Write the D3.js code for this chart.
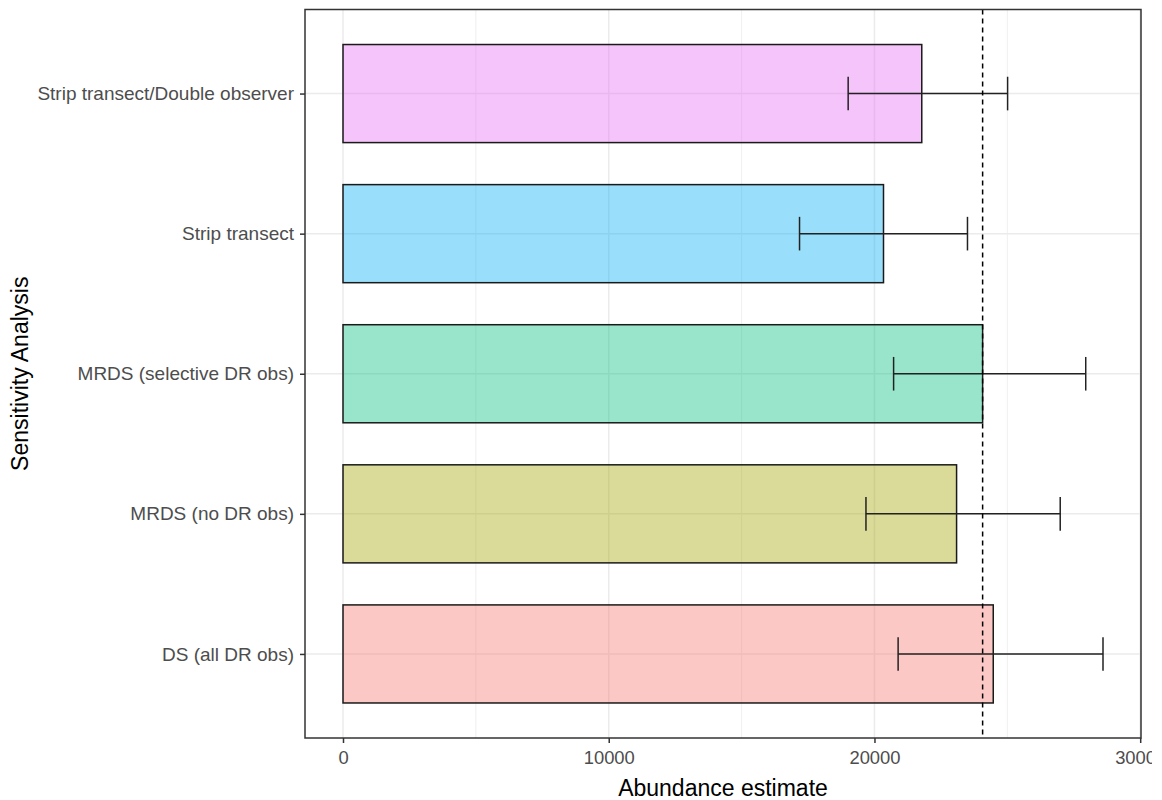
<!DOCTYPE html>
<html>
<head>
<meta charset="utf-8">
<script src="https://cdn.jsdelivr.net/npm/d3@7"></script>
<style>
  html, body { margin: 0; padding: 0; background: #fff; }
  svg { display: block; }
</style>
</head>
<body>
<svg id="chart" width="1152" height="800"></svg>
<script>
// Data (bottom to top as shown)
const categories = ["DS (all DR obs)", "MRDS (no DR obs)", "MRDS (selective DR obs)", "Strip transect", "Strip transect/Double observer"];
const estimates = [24470, 23090, 24070, 20340, 21780];
const lowerCI = [20890, 19680, 20720, 17180, 19010];
const upperCI = [28600, 26990, 27950, 23500, 25010];
const fillColors = ["#F8766D", "#A3A500", "#00BF7D", "#00B0F6", "#E76BF3"];
const referenceLine = 24070;
const xTicks = [0, 10000, 20000, 30000];
const xMinorTicks = [5000, 15000, 25000];

const svg = d3.select("#chart");
const panel = { left: 305, right: 1141, top: 9.5, bottom: 738 };

const dataMax = d3.max(upperCI);
const pad = dataMax * 0.05;
const x = d3.scaleLinear().domain([0 - pad, dataMax + pad]).range([panel.left, panel.right]);

// discrete y: 5 categories, expansion 0.6 units
const y = d3.scalePoint().domain(categories.slice().reverse())
  .range([panel.top, panel.bottom]).padding(0.6);
const step = y.step();
const barH = step * 0.7;
const capH = step * 0.24;

const data = categories.map((c, i) => ({ cat: c, est: estimates[i], lo: lowerCI[i], hi: upperCI[i], col: fillColors[i] }));

// panel background
svg.append("rect").attr("x", panel.left).attr("y", panel.top)
  .attr("width", panel.right - panel.left).attr("height", panel.bottom - panel.top)
  .attr("fill", "#fff");

// grid
const g = svg.append("g");
g.selectAll(".minor").data(xMinorTicks).join("line")
  .attr("x1", d => x(d)).attr("x2", d => x(d))
  .attr("y1", panel.top).attr("y2", panel.bottom)
  .attr("stroke", "#ebebeb").attr("stroke-width", 0.8);
g.selectAll(".majorx").data(xTicks).join("line")
  .attr("x1", d => x(d)).attr("x2", d => x(d))
  .attr("y1", panel.top).attr("y2", panel.bottom)
  .attr("stroke", "#ebebeb").attr("stroke-width", 1.5);
g.selectAll(".majory").data(categories).join("line")
  .attr("x1", panel.left).attr("x2", panel.right)
  .attr("y1", d => y(d)).attr("y2", d => y(d))
  .attr("stroke", "#ebebeb").attr("stroke-width", 1.5);

// bars
svg.append("g").selectAll("rect").data(data).join("rect")
  .attr("x", x(0)).attr("width", d => x(d.est) - x(0))
  .attr("y", d => y(d.cat) - barH / 2).attr("height", barH)
  .attr("fill", d => d.col).attr("fill-opacity", 0.4)
  .attr("stroke", "#1a1a1a").attr("stroke-width", 1.5);

// error bars
const eb = svg.append("g").attr("stroke", "#222").attr("stroke-width", 1.5);
eb.selectAll(".h").data(data).join("line")
  .attr("x1", d => x(d.lo)).attr("x2", d => x(d.hi))
  .attr("y1", d => y(d.cat)).attr("y2", d => y(d.cat));
eb.selectAll(".l").data(data).join("line")
  .attr("x1", d => x(d.lo)).attr("x2", d => x(d.lo))
  .attr("y1", d => y(d.cat) - capH / 2).attr("y2", d => y(d.cat) + capH / 2);
eb.selectAll(".r").data(data).join("line")
  .attr("x1", d => x(d.hi)).attr("x2", d => x(d.hi))
  .attr("y1", d => y(d.cat) - capH / 2).attr("y2", d => y(d.cat) + capH / 2);

// reference line
svg.append("line")
  .attr("x1", x(referenceLine)).attr("x2", x(referenceLine))
  .attr("y1", panel.top).attr("y2", panel.bottom)
  .attr("stroke", "#000").attr("stroke-width", 1.5)
  .attr("stroke-dasharray", "5,4");

// panel border
svg.append("rect").attr("x", panel.left).attr("y", panel.top)
  .attr("width", panel.right - panel.left).attr("height", panel.bottom - panel.top)
  .attr("fill", "none").attr("stroke", "#333").attr("stroke-width", 1.5);

const font = "'Liberation Sans', Arial, sans-serif";

// x axis
const xAxis = d3.axisBottom(x).tickValues(xTicks).tickFormat(d3.format("d")).tickSize(5).tickPadding(8);
const xa = svg.append("g").attr("transform", `translate(0,${panel.bottom})`).call(xAxis);
xa.select(".domain").remove();
xa.selectAll(".tick line").attr("stroke", "#333").attr("stroke-width", 1.5);
xa.selectAll(".tick text").attr("fill", "#4d4d4d").style("font-family", font).style("font-size", "18.4px");

// y axis
const yAxis = d3.axisLeft(y).tickSize(5).tickPadding(6);
const ya = svg.append("g").attr("transform", `translate(${panel.left},0)`).call(yAxis);
ya.select(".domain").remove();
ya.selectAll(".tick line").attr("stroke", "#333").attr("stroke-width", 1.5);
ya.selectAll(".tick text").attr("fill", "#4d4d4d").style("font-family", font).style("font-size", "19px");

// axis titles
svg.append("text").attr("x", (panel.left + panel.right) / 2).attr("y", 796)
  .attr("text-anchor", "middle").attr("fill", "#000")
  .style("font-family", font).style("font-size", "23px")
  .text("Abundance estimate");
svg.append("text")
  .attr("transform", `translate(28,${(panel.top + panel.bottom) / 2}) rotate(-90)`)
  .attr("text-anchor", "middle").attr("fill", "#000")
  .style("font-family", font).style("font-size", "23px")
  .text("Sensitivity Analysis");
</script>
</body>
</html>
